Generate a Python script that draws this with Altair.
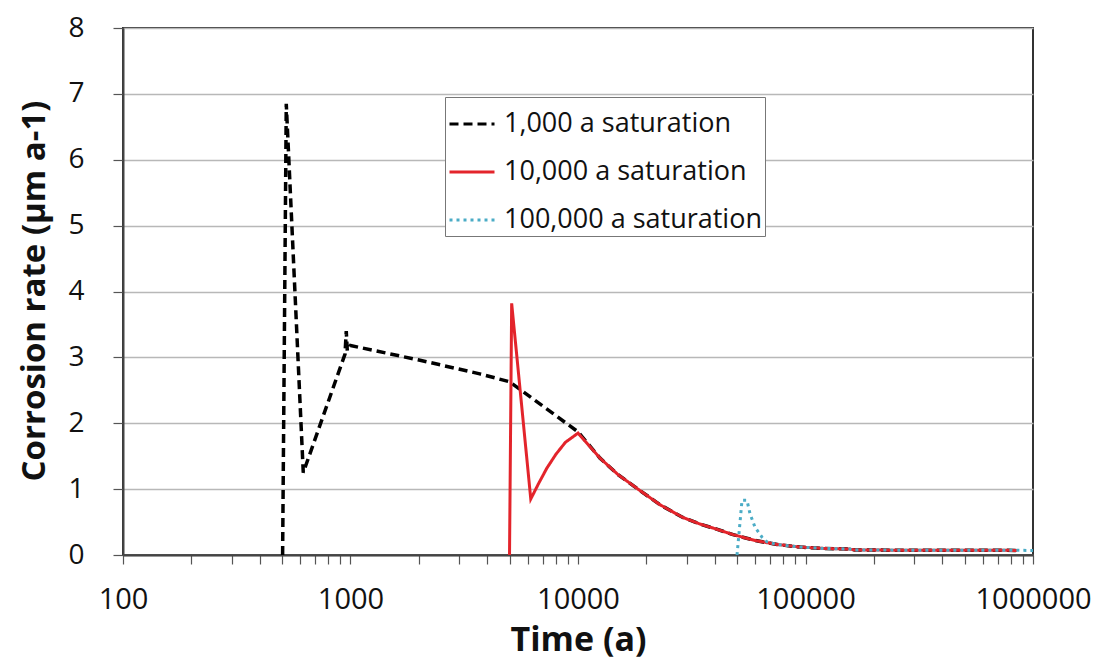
import altair as alt
import pandas as pd

# ---- data ----
series_names = ["1,000 a saturation", "10,000 a saturation", "100,000 a saturation"]
series_colors = ["#000000", "#e3242b", "#4bacc6"]
series_dash = [[9, 5], [1, 0], [3, 4]]

black_t = [503, 522, 620, 946, 958, 968, 1000, 2000, 3700, 5000, 10000,
           12500, 15000, 18700, 23000, 28900, 34400, 40000, 48000, 60000,
           75000, 95000, 120000, 157000, 165000, 850000]
black_v = [0, 6.85, 1.25, 3.05, 3.4, 3.1, 3.18, 2.96, 2.75, 2.63, 1.87,
           1.47, 1.22, 0.98, 0.76, 0.57, 0.47, 0.40, 0.31, 0.22,
           0.16, 0.12, 0.10, 0.09, 0.075, 0.07]

red_t = [5000, 5110, 6200, 6700, 7300, 8000, 8800, 10000, 12500, 15000, 18700,
         23000, 28900, 34400, 40000, 48000, 60000, 75000, 95000, 120000,
         157000, 165000, 850000]
red_v = [0, 3.82, 0.85, 1.08, 1.32, 1.53, 1.71, 1.85, 1.47, 1.22, 0.98,
         0.76, 0.57, 0.47, 0.40, 0.31, 0.22, 0.16, 0.12, 0.10,
         0.09, 0.075, 0.07]

blue_t = [50000, 52600, 55300, 57000, 60000, 64400, 67700, 75000, 95000,
          120000, 157000, 165000, 1000000]
blue_v = [0, 0.83, 0.83, 0.63, 0.42, 0.27, 0.20, 0.16, 0.12,
          0.10, 0.09, 0.075, 0.07]

x_major = [100, 1000, 10000, 100000, 1000000]
x_ticks = [m * d for d in [100, 1000, 10000, 100000] for m in range(1, 10)] + [1000000]
y_ticks = [0, 1, 2, 3, 4, 5, 6, 7, 8]

FONT = "Open Sans"

rows = []
for name, ts, vs in zip(series_names, [black_t, red_t, blue_t], [black_v, red_v, blue_v]):
    for i, (t, v) in enumerate(zip(ts, vs)):
        rows.append({"series": name, "t": t, "v": v, "i": i})
df = pd.DataFrame(rows)

x_enc = alt.X("t:Q",
              scale=alt.Scale(type="log", domain=[100, 1000000], nice=False),
              axis=alt.Axis(values=x_ticks,
                            labelExpr="indexof(" + str(x_major) + ", datum.value) >= 0 ? format(datum.value, 'd') : ''",
                            labelOverlap=False, labelFlush=False,
                            tickSize=9, tickColor="#555555", tickWidth=1.2,
                            labelPadding=21, labelFontSize=29, labelFont=FONT,
                            labelColor="#111111",
                            domainColor="#444444", domainWidth=2,
                            grid=False,
                            title="Time (a)", titleFont=FONT, titleFontSize=34,
                            titleFontWeight="bold", titleColor="#111111",
                            titleX=455, titleY=95, titleBaseline="alphabetic",
                            titleAlign="center"))
y_enc = alt.Y("v:Q",
              scale=alt.Scale(domain=[0, 8], nice=False),
              axis=alt.Axis(values=y_ticks, format="d",
                            tickSize=10, tickColor="#555555", tickWidth=1.2,
                            labelPadding=29, labelFontSize=28, labelFont=FONT,
                            labelColor="#111111",
                            domainColor="#444444", domainWidth=2,
                            grid=True, gridColor="#b8b8b8", gridWidth=1.5,
                            title="Corrosion rate (µm a-1)", titleFont=FONT,
                            titleFontSize=33, titleFontWeight="bold",
                            titleColor="#111111",
                            titleX=-89, titleY=262.5, titleAlign="center",
                            titleBaseline="middle"))

color_enc = alt.Color("series:N",
                      scale=alt.Scale(domain=series_names, range=series_colors),
                      sort=series_names,
                      legend=alt.Legend(title=None, orient="none",
                                        legendX=322, legendY=69,
                                        symbolType="stroke", symbolSize=2025,
                                        symbolStrokeWidth=3,
                                        labelFont=FONT, labelFontSize=27,
                                        labelColor="#111111", labelOffset=8,
                                        labelLimit=500,
                                        rowPadding=11, padding=3,
                                        strokeColor="#777777",
                                        fillColor="#ffffff"))
dash_enc = alt.StrokeDash("series:N",
                          scale=alt.Scale(domain=series_names, range=series_dash),
                          sort=series_names, legend=None)

layers = []
widths = [3.5, 3, 3]
for name, w in zip(series_names, widths):
    layers.append(
        alt.Chart(df).transform_filter(alt.datum.series == name)
        .mark_line(strokeWidth=w, clip=True)
        .encode(x=x_enc, y=y_enc, color=color_enc, strokeDash=dash_enc,
                order="i:Q")
    )

chart = alt.layer(*layers).properties(
    width=910, height=527,
    autosize=alt.AutoSizeParams(type="none"),
    padding={"left": 115, "top": 20, "right": 63, "bottom": 107},
).configure_view(stroke="#333333", strokeWidth=2)

chart.save("out.html", embed_options={"renderer": "svg", "actions": False})
